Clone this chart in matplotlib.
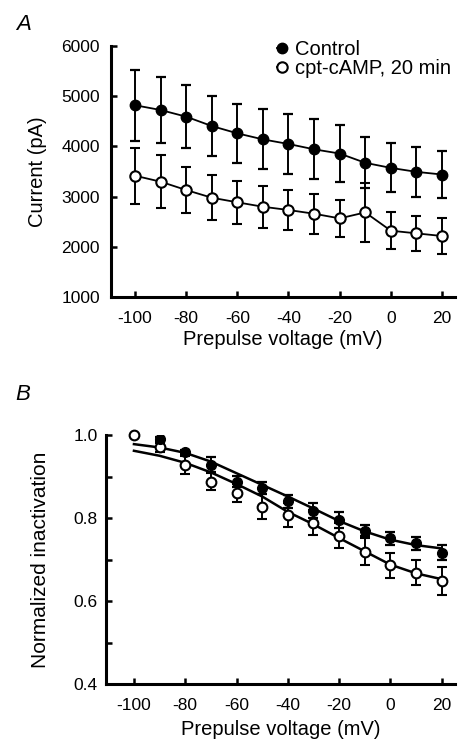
import matplotlib
matplotlib.use('Agg')
import matplotlib.pyplot as plt
import numpy as np

plt.rcParams['font.family'] = ['Liberation Sans', 'DejaVu Sans']
plt.rcParams['axes.unicode_minus'] = False

# Panel A: peak current vs prepulse voltage
volts = [-100, -90, -80, -70, -60, -50, -40, -30, -20, -10, 0, 10, 20]
ctrl_current = [4820, 4725, 4592, 4406, 4260, 4140, 4048, 3942, 3858, 3673, 3572, 3493, 3440]
ctrl_current_err = [710, 660, 630, 600, 585, 600, 600, 600, 570, 510, 490, 500, 465]
camp_current = [3416, 3297, 3131, 2978, 2886, 2798, 2733, 2659, 2566, 2685, 2321, 2268, 2215]
camp_current_err = [560, 530, 465, 450, 425, 420, 390, 400, 370, 590, 365, 355, 350]

# Panel B: normalized inactivation
ctrl_volts_b = [-90, -80, -70, -60, -50, -40, -30, -20, -10, 0, 10, 20]
ctrl_inact = [0.990, 0.960, 0.928, 0.888, 0.872, 0.840, 0.818, 0.795, 0.770, 0.751, 0.739, 0.717]
ctrl_inact_err = [0.005, 0.005, 0.018, 0.013, 0.014, 0.016, 0.018, 0.020, 0.013, 0.015, 0.016, 0.018]
camp_inact = [1.000, 0.970, 0.928, 0.888, 0.860, 0.827, 0.807, 0.789, 0.758, 0.719, 0.687, 0.669, 0.649]
camp_inact_err = [0.0, 0.010, 0.022, 0.020, 0.022, 0.030, 0.029, 0.030, 0.031, 0.032, 0.030, 0.030, 0.034]

# fitted curves, every 10 mV
ctrl_fit = [0.978, 0.970, 0.957, 0.936, 0.908, 0.880, 0.852, 0.823, 0.793, 0.768, 0.748, 0.735, 0.727]
camp_fit = [0.962, 0.950, 0.933, 0.910, 0.882, 0.852, 0.815, 0.785, 0.752, 0.720, 0.688, 0.667, 0.653]

W, H = 462, 743
fig = plt.figure(figsize=(W / 100, H / 100), dpi=100)


def px_axes(left, right, top, bottom):
    # axes rectangle given in pixel coordinates of the picture
    return fig.add_axes([left / W, 1 - bottom / H, (right - left) / W, (bottom - top) / H])


def style(ax):
    for side in ['top', 'right']:
        ax.spines[side].set_visible(False)
    for side in ['left', 'bottom']:
        ax.spines[side].set_linewidth(2.2)
    ax.tick_params(which='both', direction='in', width=1.8, length=4, labelsize=12.5)


# ---- A ----
axA = px_axes(111, 455, 46, 297)
axA.errorbar(volts, ctrl_current, yerr=ctrl_current_err, fmt='-o', color='black',
             mfc='black', mec='black', ms=7.5, lw=1.3, elinewidth=1.4, capsize=3.5,
             capthick=1.6, label='Control', zorder=3)
axA.errorbar(volts, camp_current, yerr=camp_current_err, fmt='-o', color='black',
             mfc='white', mec='black', mew=1.5, ms=7.5, lw=1.3, elinewidth=1.4, capsize=3.5,
             capthick=1.6, label='cpt-cAMP, 20 min', zorder=3)
axA.set_xlim(-109.4, 25.1)
axA.set_ylim(1000, 6000)
axA.set_xticks([-100, -80, -60, -40, -20, 0, 20])
axA.set_yticks([1000, 2000, 3000, 4000, 5000, 6000])
style(axA)
axA.tick_params(axis='x', pad=10)
axA.tick_params(axis='y', pad=8)
axA.set_xlabel('Prepulse voltage (mV)', fontsize=14.5, labelpad=3)
axA.set_ylabel('Current (pA)', fontsize=14.5, labelpad=10)
handles, labels = axA.get_legend_handles_labels()
handles = [h[0] for h in handles]
axA.legend(handles, labels, loc='upper left', bbox_to_anchor=(277 / W, 1 - 40 / H),
           bbox_transform=fig.transFigure, frameon=False, fontsize=14.5,
           handlelength=0.5, handletextpad=0.4, labelspacing=0.0, borderpad=0,
           borderaxespad=0)
fig.text(24 / W, 1 - 25 / H, 'A', fontsize=16, style='italic', ha='center', va='center')

# ---- B ----
axB = px_axes(106, 455, 435, 684.3)
axB.plot(volts, ctrl_fit, color='black', lw=1.8, zorder=2)
axB.plot(volts, camp_fit, color='black', lw=1.8, zorder=2)
camp_b = axB.errorbar(volts, camp_inact, yerr=camp_inact_err, fmt='o', color='black',
                      mfc='white', mec='black', mew=1.5, ms=7, elinewidth=1.4, capsize=3.5,
                      capthick=1.6, zorder=3)
camp_b[0].set_clip_on(False)
axB.errorbar(ctrl_volts_b, ctrl_inact, yerr=ctrl_inact_err, fmt='o', color='black',
             mfc='black', mec='black', ms=7, elinewidth=1.4, capsize=3.5,
             capthick=1.6, zorder=4)
axB.set_xlim(-110.9, 25.2)
axB.set_ylim(0.4, 1.0)
axB.set_xticks([-100, -80, -60, -40, -20, 0, 20])
axB.set_yticks([0.4, 0.6, 0.8, 1.0])
axB.set_yticks([0.5, 0.7, 0.9], minor=True)
axB.set_yticklabels(['0.4', '0.6', '0.8', '1.0'])
style(axB)
axB.tick_params(axis='x', pad=10)
axB.tick_params(axis='y', pad=6)
axB.set_xlabel('Prepulse voltage (mV)', fontsize=14.5, labelpad=5)
axB.set_ylabel('Normalized inactivation', fontsize=15, labelpad=17)
fig.text(23 / W, 1 - 395 / H, 'B', fontsize=16, style='italic', ha='center', va='center')

fig.savefig('out.png', dpi=100)
